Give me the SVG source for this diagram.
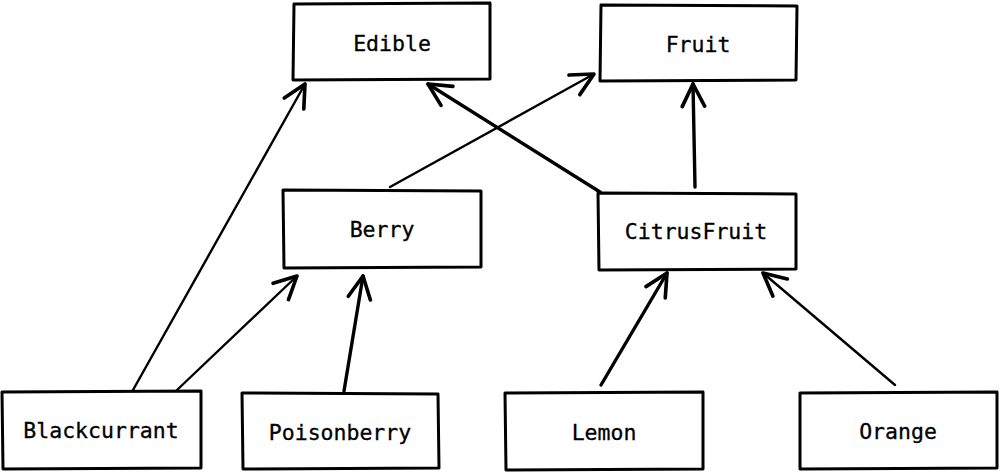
<svg xmlns="http://www.w3.org/2000/svg" width="1000" height="474" viewBox="0 0 1000 474">
<style>
.box{fill:#fff;stroke:#000;stroke-width:3;stroke-linejoin:round}
.lbl{font-family:"DejaVu Sans Mono","Liberation Mono",monospace;font-size:21.5px;fill:#000;stroke:#000;stroke-width:0.3;text-anchor:middle;dominant-baseline:central}
.ed{fill:none;stroke:#000;stroke-width:2.4;stroke-linecap:round;marker-end:url(#ah)}
.thick{stroke-width:3.4}
</style>
<defs>
<marker id="ah" viewBox="0 0 20 20" refX="18" refY="10" markerWidth="28" markerHeight="28" markerUnits="userSpaceOnUse" orient="auto">
<path d="M2 2 L18 10 L2 18" fill="none" stroke="#000" stroke-width="2.6" stroke-linecap="round" stroke-linejoin="round"/>
</marker>
</defs>
<g id="connectors">
<path class="ed" d="M133 390 L305 84"/>
<path class="ed" d="M177 390 L297 276"/>
<path class="ed thick" d="M344 391 L363 276"/>
<path class="ed" d="M390 187 L594 74"/>
<path class="ed thick" d="M600 192 L428 84"/>
<path class="ed thick" d="M695 187 L693 84"/>
<path class="ed thick" d="M601 385 L667 273"/>
<path class="ed" d="M895 385 L763 273"/>
</g>
<g id="node-edible"><path class="box" d="M294 4 L490 3 L490 79 L293 80 Z"/><text class="lbl" x="392" y="43">Edible</text></g>
<g id="node-fruit"><path class="box" d="M601 5 L797 6 L796 80 L600 81 Z"/><text class="lbl" x="698" y="44">Fruit</text></g>
<g id="node-berry"><path class="box" d="M283 190 L481 191 L481 267 L284 268 Z"/><text class="lbl" x="382" y="229">Berry</text></g>
<g id="node-citrusfruit"><path class="box" d="M598 193 L796 194 L796 269 L599 270 Z"/><text class="lbl" x="696" y="231">CitrusFruit</text></g>
<g id="node-blackcurrant"><path class="box" d="M2 392 L201 391 L201 468 L3 469 Z"/><text class="lbl" x="101" y="430">Blackcurrant</text></g>
<g id="node-poisonberry"><path class="box" d="M242 393 L438 394 L439 468 L243 469 Z"/><text class="lbl" x="340" y="432">Poisonberry</text></g>
<g id="node-lemon"><path class="box" d="M505 393 L703 392 L703 469 L506 470 Z"/><text class="lbl" x="604" y="432">Lemon</text></g>
<g id="node-orange"><path class="box" d="M800 393 L997 392 L997 468 L800 469 Z"/><text class="lbl" x="898" y="431">Orange</text></g>
</svg>
